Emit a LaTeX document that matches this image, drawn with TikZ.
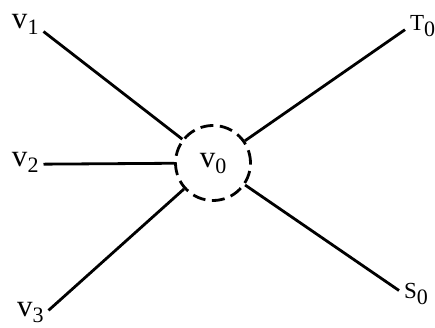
\documentclass[tikz,border=0pt]{standalone}
\usepackage{fontspec}
\setmainfont{Liberation Serif}
\newcommand{\vsub}[1]{\raisebox{-6pt}{\fontsize{22}{22}\selectfont #1}}
\tikzset{
  lbl/.style={inner sep=1pt, outer sep=4pt, anchor=base west, font=\fontsize{31}{32}\selectfont},
  caplbl/.style={lbl, font=\fontsize{23}{24}\selectfont},
  hub/.style={draw, circle, line width=2.8pt, dash pattern=on 13pt off 6.5pt, minimum size=75pt, inner sep=0pt, font=\fontsize{31}{32}\selectfont},
  edge/.style={line width=2.8pt}
}
\begin{document}
\begin{tikzpicture}[x=1pt, y=-1pt]
  \useasboundingbox (0,0) rectangle (435,328);
  \node[hub] (v0) at (213,163) {v\vsub{0}};
  \node[lbl] (v1) at (7,29) {v\vsub{1}};
  \node[lbl] (v2) at (7,167) {v\vsub{2}};
  \node[lbl] (v3) at (12,316) {v\vsub{3}};
  \node[caplbl] (t0) at (405,31) {T\vsub{0}};
  \node[caplbl] (s0) at (399,298) {S\vsub{0}};
  \draw[edge] (v1.-20) -- (v0);
  \draw[edge] (v2.-4) -- (v0);
  \draw[edge] (v3.5) -- (v0);
  \draw[edge] (t0.190) -- (v0);
  \draw[edge] (s0.170) -- (v0);
\end{tikzpicture}
\end{document}
